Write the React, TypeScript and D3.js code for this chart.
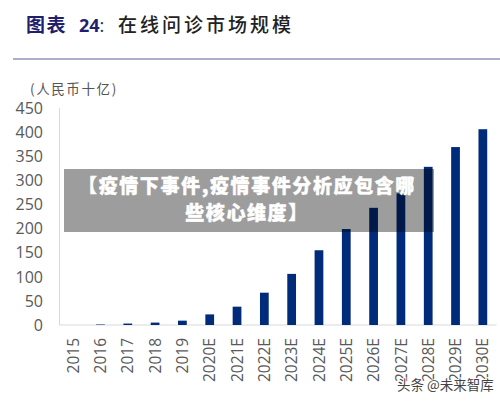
import React from "react";
import * as d3 from "d3";

const categories = ["2015","2016","2017","2018","2019","2020E","2021E","2022E","2023E","2024E","2025E","2026E","2027E","2028E","2029E","2030E"];
const marketSize = [0,1,3,5,9,22,38,67,106,155,199,243,273,328,369,406];
const yTicks = [0,50,100,150,200,250,300,350,400,450];
const titleLabel = "图表";
const titleNumber = "24";
const titleText = "在线问诊市场规模";
const unitLabel = "(人民币十亿)";
const bannerLines = ["【疫情下事件,疫情事件分析应包含哪", "些核心维度】"];
const watermark = "头条 @未来智库";

const W = 500, H = 402;
const CJK = '"Noto Sans CJK SC", sans-serif';
const LATIN = '"Open Sans", "Noto Sans", sans-serif';

export default function App() {
  const x = d3.scaleBand<string>().domain(categories).range([59.5, 496.5]).paddingInner(0.68).paddingOuter(0.34);
  const y = d3.scaleLinear().domain([0, 450]).range([325, 108]);
  return (
    <svg width={W} height={H} viewBox={`0 0 ${W} ${H}`} style={{ position: "absolute", left: 0, top: 0, background: "#fff" }}>
      <text x={26} y={32} fontFamily={CJK} fontSize={19} fontWeight={600} fill="#1f1f6e" letterSpacing={1.5}>{titleLabel}</text>
      <text x={79} y={32} fontFamily={LATIN} fontSize={18} fontWeight={700} fill="#1f1f6e">{titleNumber}<tspan fontWeight={400}>:</tspan></text>
      <text x={118} y={32} fontFamily={CJK} fontSize={19} fontWeight={500} fill="#222" letterSpacing={3}>{titleText}</text>
      <line x1={13} x2={500} y1={59} y2={59} stroke="#5a5a9c" strokeWidth={1.2} />
      <text x={30} y={94} fontFamily={CJK} fontSize={13.5} fill="#555" letterSpacing={1.6}>{unitLabel}</text>

      <line x1={59.5} x2={59.5} y1={y(450)} y2={y(0)} stroke="#d9d9d9" strokeWidth={1} />
      <line x1={59.5} x2={496.5} y1={y(0)} y2={y(0)} stroke="#d9d9d9" strokeWidth={1} />
      {yTicks.map(t => (
        <text key={t} x={43} y={y(t)} dy="0.36em" textAnchor="end" fontFamily={LATIN} fontSize={16} fill="#595959">{t}</text>
      ))}
      {categories.map((c, i) => (
        <rect key={c} x={x(c)} y={y(marketSize[i])} width={x.bandwidth()} height={y(0) - y(marketSize[i])} fill="#002a7a" />
      ))}
      {categories.map(c => {
        const cx = x(c)! + x.bandwidth() / 2;
        return (
          <text key={c} transform={`translate(${cx},338) rotate(-90)`} dy="0.36em" textAnchor="end" fontFamily={LATIN} fontSize={15.5} fill="#595959">{c}</text>
        );
      })}

      <rect x={64} y={169} width={370} height={63} fill="#000" fillOpacity={0.385} />
      {bannerLines.map((l, i) => (
        <text key={i} x={247} y={192.5 + i * 27.5} textAnchor="middle" fontFamily={CJK} fontSize={19} fontWeight={900} fill="#fff" stroke="#fff" strokeWidth={0.4} letterSpacing={1.6}>{l}</text>
      ))}
      <text x={397} y={390} fontFamily={CJK} fontSize={13.5} fill="#444" stroke="#fff" strokeWidth={2} paintOrder="stroke">{watermark}</text>
    </svg>
  );
}
